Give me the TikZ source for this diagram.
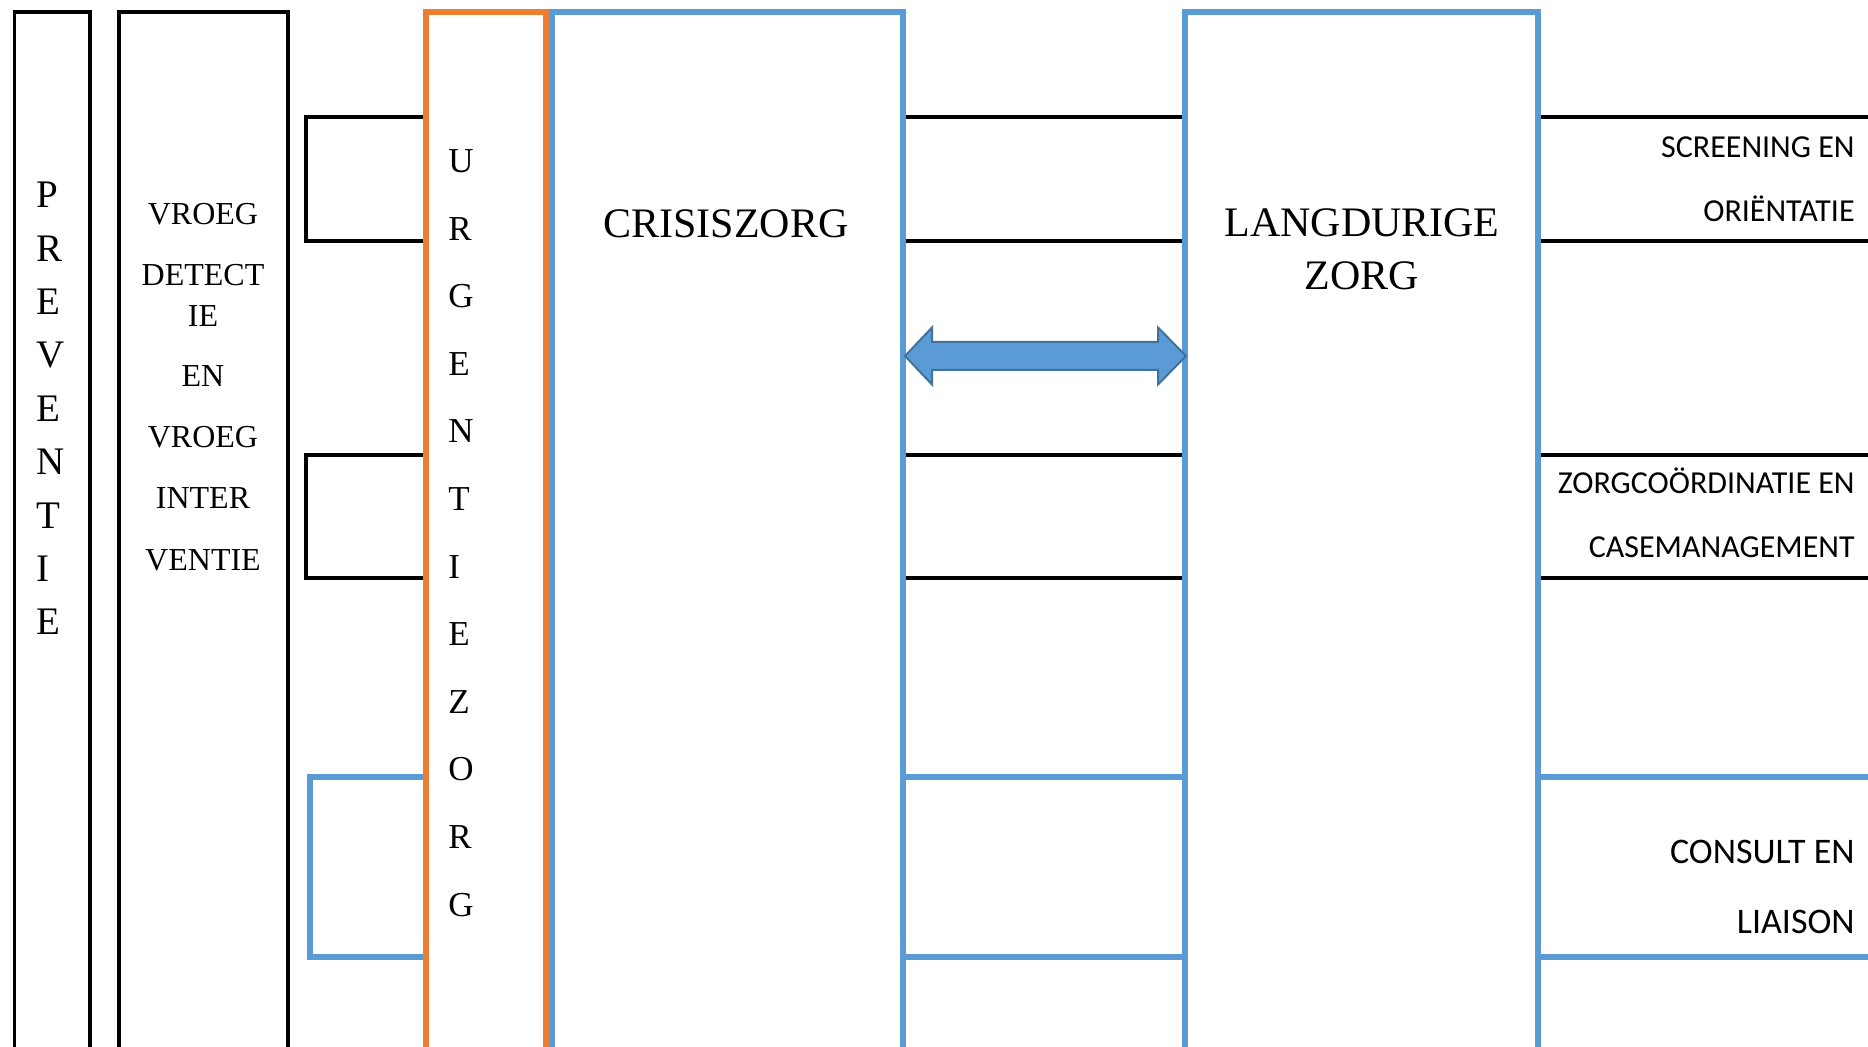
\documentclass[tikz,border=0pt]{standalone}
\usepackage{fontspec}
\setmainfont{Liberation Serif}
\newfontfamily\calibrifont{Carlito}
\usetikzlibrary{calc}
\definecolor{zorgblue}{HTML}{5B9BD5}
\definecolor{zorgorange}{HTML}{ED7D31}
\definecolor{arrowedge}{HTML}{41719C}
\tikzset{
  blackline/.style={line width=1.6pt, black},
  blueline/.style={line width=3pt, zorgblue},
  orangeline/.style={line width=2.9pt, zorgorange},
  sanslabel/.style={anchor=base east, inner sep=0pt, font=\calibrifont\fontsize{16}{16}\selectfont},
  biglabel/.style={anchor=base east, inner sep=0pt, font=\calibrifont\fontsize{18}{18}\selectfont}
}

\begin{document}
\begin{tikzpicture}[x=0.5pt,y=-0.5pt]
			%%%%% START %%%%%
			\useasboundingbox (0,0) rectangle (1868,1047);
			\clip (0,0) rectangle (1868,1047);
			
			% left columns
			\draw[blackline] (14.5,1100) -- (14.5,12) -- (90,12) -- (90,1100);
			\draw[blackline] (119,1100) -- (119,12) -- (288,12) -- (288,1100);
			
			% side boxes at the urgentie column
			\draw[blackline] (426,117) -- (306,117) -- (306,241) -- (426,241);
			\draw[blackline] (426,455) -- (306,455) -- (306,578) -- (426,578);
			\draw[blueline] (426,777) -- (310,777) -- (310,957) -- (426,957);
			
			% middle and right lines
			\draw[blackline] (903,117) -- (1185,117);
			\draw[blackline] (903,241) -- (1185,241);
			\draw[blackline] (903,455) -- (1185,455);
			\draw[blackline] (903,578) -- (1185,578);
			\draw[blueline] (903,777) -- (1185,777);
			\draw[blueline] (903,957) -- (1185,957);
			
			\draw[blackline] (1538,117) -- (1900,117);
			\draw[blackline] (1538,241) -- (1900,241);
			\draw[blackline] (1538,455) -- (1900,455);
			\draw[blackline] (1538,578) -- (1900,578);
			\draw[blueline] (1538,777) -- (1900,777);
			\draw[blueline] (1538,957) -- (1900,957);
			
			% big columns
			\draw[blueline] (552,1100) -- (552,12) -- (903,12) -- (903,1100);
			\draw[orangeline] (426,1100) -- (426,12) -- (546,12) -- (546,1100);
			\draw[blueline] (1185,1100) -- (1185,12) -- (1538,12) -- (1538,1100);
			
			% double arrow
			\coordinate (crisisR) at (905,356);
			\coordinate (langL) at (1186,356);
			\draw[arrowedge, fill=zorgblue, line width=1pt, line join=miter] (crisisR) -- ++(27,-28.5) -- ++(0,14.5) -- ($(langL)+(-28,-14)$) -- ++(0,-14.5) -- (langL) -- ++(-28,28.5) -- ++(0,-14.5) -- ($(crisisR)+(27,14)$) -- ++(0,14.5) -- cycle;
			
			% texts
			\foreach \letter [count=\i] in {P,R,E,V,E,N,T,I,E}
				\node[anchor=west, inner sep=0pt, font=\fontsize{19.5}{19.5}\selectfont] (prev\i) at (36,{195+53.4*(\i-1)}) {\letter};
			
			\foreach \y/\txt [count=\i] in {214/VROEG, 275/DETECT, 316/IE, 376/EN, 437/VROEG, 498/INTER, 560/VENTIE}
				\node[inner sep=0pt, font=\fontsize{16}{16}\selectfont] (vroeg\i) at (203,\y) {\txt};
			
			\foreach \letter [count=\i] in {U,R,G,E,N,T,I,E,Z,O,R,G}
				\node[anchor=west, inner sep=0pt, font=\fontsize{17.5}{17.5}\selectfont] (urg\i) at (448,{161+67.6*(\i-1)}) {\letter};
			
			\node[inner sep=0pt, font=\fontsize{21}{21}\selectfont] (crisis) at (726,224) {CRISISZORG};
			\node[inner sep=0pt, font=\fontsize{21}{21}\selectfont] (lang1) at (1362,223) {LANGDURIGE};
			\node[inner sep=0pt, font=\fontsize{21}{21}\selectfont] (lang2) at (1362,276) {ZORG};
			
			\node[sanslabel] (screen1) at (1855,158) {SCREENING EN};
			\node[sanslabel] (screen2) at (1855,222) {ORIËNTATIE};
			\node[sanslabel] (coord1) at (1855,494) {ZORGCOÖRDINATIE EN};
			\node[sanslabel] (coord2) at (1855,558) {CASEMANAGEMENT};
			\node[biglabel] (consult1) at (1855,863) {CONSULT EN};
			\node[biglabel] (consult2) at (1855,933) {LIAISON};
			
			%%%%% END %%%%%
\end{tikzpicture}
\end{document}
